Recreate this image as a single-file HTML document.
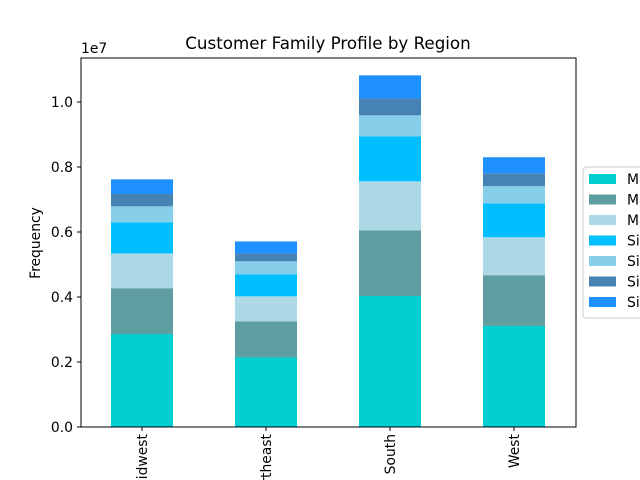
<!DOCTYPE html>
<html><head><meta charset="utf-8"><style>
html,body{margin:0;padding:0;width:640px;height:480px;overflow:hidden;background:#fff}
svg{display:block;font-family:"DejaVu Sans","Liberation Sans",sans-serif}
</style></head><body>
<svg id="chart" width="640" height="480">
<text x="328" y="49" font-size="16.7" text-anchor="middle">Customer Family Profile by Region</text>
<text x="81" y="53" font-size="13.9">1e7</text>
<text transform="translate(40,243) rotate(-90)" font-size="13.9" text-anchor="middle">Frequency</text>
<g id="bars"></g><g id="yticks"></g><g id="xticks"></g>
<rect x="81" y="58" width="495" height="369" fill="none" stroke="#000" stroke-width="1"/>
<g id="legend"></g>
</svg>
<script>
const categories=["Midwest","Northeast","South","West"];
const seriesNames=["Married, 0 children","Married, 1 child","Married, 2+ children","Single, 0 children","Single, 1 child","Single, 2 children","Single, 3+ children"];
const s0=[2.86,2.14,4.03,3.11];
const s1=[1.41,1.11,2.02,1.56];
const s2=[1.07,0.77,1.51,1.17];
const s3=[0.96,0.68,1.38,1.04];
const s4=[0.49,0.40,0.65,0.53];
const s5=[0.38,0.24,0.52,0.40];
const s6=[0.45,0.37,0.71,0.49];
const yTicks=[0,0.2,0.4,0.6,0.8,1.0];
const series=[s0,s1,s2,s3,s4,s5,s6];
const colors=["#00ced1","#5f9ea0","#add8e6","#00bfff","#87ceeb","#4682b4","#1e90ff"];
const NS="http://www.w3.org/2000/svg";
const y=v=>427-v*32.5; // v in millions
const x=i=>142+i*124;
const bars=document.getElementById('bars');
categories.forEach((c,i)=>{
  let base=0;
  series.forEach((s,k)=>{
    const r=document.createElementNS(NS,'rect');
    r.setAttribute('x',x(i)-31);r.setAttribute('width',62);
    r.setAttribute('y',y(base+s[i]));r.setAttribute('height',y(base)-y(base+s[i]));
    r.setAttribute('fill',colors[k]);
    
    
    bars.appendChild(r);base+=s[i];
  });
});
const yt=document.getElementById('yticks');
yTicks.forEach(t=>{
  const yy=y(t*10);
  const l=document.createElementNS(NS,'line');
  l.setAttribute('x1',77);l.setAttribute('x2',81);l.setAttribute('y1',yy);l.setAttribute('y2',yy);l.setAttribute('stroke','#000');
  
  
  yt.appendChild(l);
  const tx=document.createElementNS(NS,'text');
  tx.setAttribute('x',73);tx.setAttribute('y',yy+5);tx.setAttribute('font-size','13.9');tx.setAttribute('text-anchor','end');
  tx.textContent=t.toFixed(1);
  
  
  yt.appendChild(tx);
});
const xt=document.getElementById('xticks');
categories.forEach((c,i)=>{
  const l=document.createElementNS(NS,'line');
  l.setAttribute('x1',x(i));l.setAttribute('x2',x(i));l.setAttribute('y1',427);l.setAttribute('y2',431);l.setAttribute('stroke','#000');
  
  
  xt.appendChild(l);
  const tx=document.createElementNS(NS,'text');
  tx.setAttribute('transform','translate('+(x(i)+5)+',434) rotate(-90)');
  tx.setAttribute('font-size','13.9');tx.setAttribute('text-anchor','end');
  tx.textContent=c;
  
  
  xt.appendChild(tx);
});
const lg=document.getElementById('legend');
const box=document.createElementNS(NS,'rect');
box.setAttribute('x',583);box.setAttribute('y',167);box.setAttribute('width',200);box.setAttribute('height',151);
box.setAttribute('rx',3);box.setAttribute('fill','#fff');box.setAttribute('stroke','#ccc');


lg.appendChild(box);
seriesNames.forEach((n,k)=>{
  const yy=179+k*20.5;
  const r=document.createElementNS(NS,'rect');
  r.setAttribute('x',589);r.setAttribute('y',yy-5);r.setAttribute('width',27);r.setAttribute('height',10);r.setAttribute('fill',colors[k]);
  
  
  lg.appendChild(r);
  const t=document.createElementNS(NS,'text');
  t.setAttribute('x',627);t.setAttribute('y',yy+5);t.setAttribute('font-size','13.9');t.textContent=n;
  
  
  lg.appendChild(t);
});
</script>
</body></html>
